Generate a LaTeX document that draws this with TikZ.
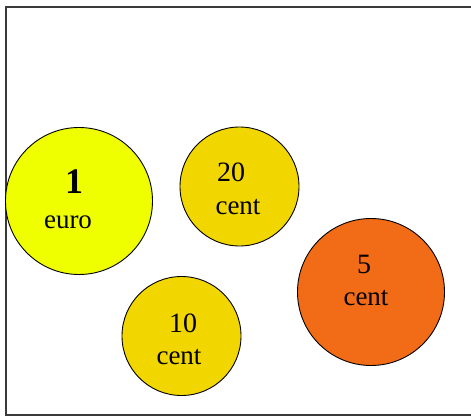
\documentclass[tikz,border=0pt]{standalone}
\usepackage{fontspec}
\setmainfont{Liberation Serif}
\definecolor{euroyellow}{HTML}{F0FF00}
\definecolor{centgold}{HTML}{F2D600}
\definecolor{centorange}{HTML}{F26B17}
\definecolor{framegray}{HTML}{3A3A3A}
\begin{document}
\begin{tikzpicture}[x=1pt,y=-1pt,
  coin/.style={circle,draw=black,line width=0.9pt,inner sep=0pt,minimum size=#1},
  lbl/.style={inner sep=0pt,font=\fontsize{27}{29}\selectfont},
  num/.style={inner sep=0pt,font=\fontsize{28}{30}\selectfont}]
\useasboundingbox (0,0) rectangle (471,417);
\fill[white] (0,0) rectangle (471,417);
\draw[framegray,line width=2pt] (471,7) -- (6,7) -- (6,415) -- (471,415);
\node[coin=147pt,fill=euroyellow] (euro) at (79,201) {};
\node[coin=119pt,fill=centgold] (twenty) at (239.5,186.5) {};
\node[coin=119pt,fill=centgold] (ten) at (181.5,336) {};
\node[coin=147pt,fill=centorange] (five) at (371,292) {};
\node[inner sep=0pt,font=\fontsize{36}{38}\selectfont\bfseries] (euroN) at (74,182) {1};
\node[lbl] (euroT) at (68,222) {euro};
\node[num] (twentyN) at (231,172) {20};
\node[lbl] (twentyT) at (238,207) {cent};
\node[num] (tenN) at (183,323) {10};
\node[lbl] (tenT) at (179,357) {cent};
\node[num] (fiveN) at (364,264) {5};
\node[lbl] (fiveT) at (366,298) {cent};
\end{tikzpicture}
\end{document}
